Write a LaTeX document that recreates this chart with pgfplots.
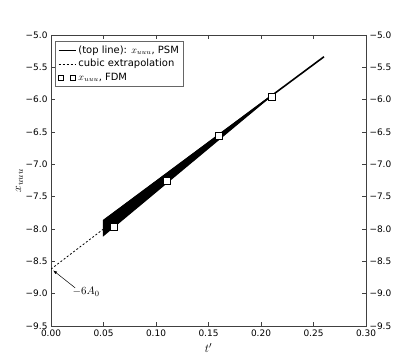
\documentclass[border=0pt]{standalone}
\usepackage{pgfplots}
\pgfplotsset{compat=1.18}
\usepackage[no-math]{fontspec}
\setmainfont{DejaVu Sans}
\usetikzlibrary{arrows.meta,calc}
\pgfplotsset{
  twosq/.style={legend image code/.code={%
    \draw[##1,mark size=2.5bp] plot coordinates {(0.08cm,0cm)};%
    \draw[##1,mark size=2.5bp] plot coordinates {(0.5cm,0cm)};}},
}

\begin{document}
\begin{tikzpicture}
\pgfplotsset{
  common/.style={
    scale only axis, width=315bp, height=291bp,
    xmin=0, xmax=0.30, ymin=-9.5, ymax=-5.0,
    ytick={-9.5,-9.0,-8.5,-8.0,-7.5,-7.0,-6.5,-6.0,-5.5,-5.0},
    yticklabels={−9.5,−9.0,−8.5,−8.0,−7.5,−7.0,−6.5,−6.0,−5.5,−5.0},
    tick align=inside, major tick length=4bp,
    tick label style={font=\fontsize{9}{10}\selectfont},
    axis line style={black!75, line width=0.6bp},
    every tick/.style={black!75, line width=0.5bp},
  }
}
\begin{axis}[common,
  xtick={0,0.05,0.10,0.15,0.20,0.25,0.30},
  xticklabels={0.00,0.05,0.10,0.15,0.20,0.25,0.30},
  xtick pos=both, xticklabel pos=bottom,
  ytick pos=both, yticklabel pos=left,
  xlabel={$t'$}, ylabel={$x_{uuu}$},
  label style={font=\fontsize{13}{14}\selectfont},
  ylabel style={yshift=-4bp},
  legend cell align=left,
  legend style={at={(rel axis cs:0.013,0.979)}, anchor=north west,
    draw=black!60, line width=0.5bp, font=\fontsize{10}{12}\selectfont,
    inner sep=2.5bp, row sep=0.5bp},
]
% top line (PSM)
\addplot[black, line width=1.6bp] coordinates {(0.05,-7.87) (0.26,-5.336)};
\addlegendentry{(top line): $x_{uuu}$, PSM}
% cubic extrapolation
\addplot[black, line width=0.8bp, dash pattern=on 2bp off 2bp] coordinates {(0.0,-8.62) (0.05,-8.00)};
\addlegendentry{cubic extrapolation}
% wedge of lower PSM lines
\addplot[black, fill=black, line width=1.2bp, forget plot] coordinates {(0.05,-7.87) (0.21,-5.939) (0.05,-8.10)} -- cycle;
% FDM squares
\addplot[only marks, mark=square*, mark size=3.6bp, mark options={fill=white, draw=black, line width=0.6bp}, twosq]
  coordinates {(0.06,-7.96) (0.11,-7.26) (0.16,-6.56) (0.21,-5.96)};
\addlegendentry{$x_{uuu}$, FDM}
% annotation
\draw[black, line width=0.5bp, -{Latex[length=4bp,width=3bp]}] (axis cs:0.023,-8.91) -- (axis cs:0.002,-8.64);
\node[font=\fontsize{11}{12}\selectfont, anchor=west, inner sep=0pt] at (axis cs:0.0205,-8.97) {$-6A_0$};
\end{axis}
\begin{axis}[common,
  axis x line=none, axis y line*=right,
  ytick pos=right, yticklabel pos=right,
]
\end{axis}
\pgfresetboundingbox
\path ($(current axis.south west)+(-51bp,-36bp)$) rectangle ($(current axis.north east)+(41bp,35bp)$);
\end{tikzpicture}
\end{document}
